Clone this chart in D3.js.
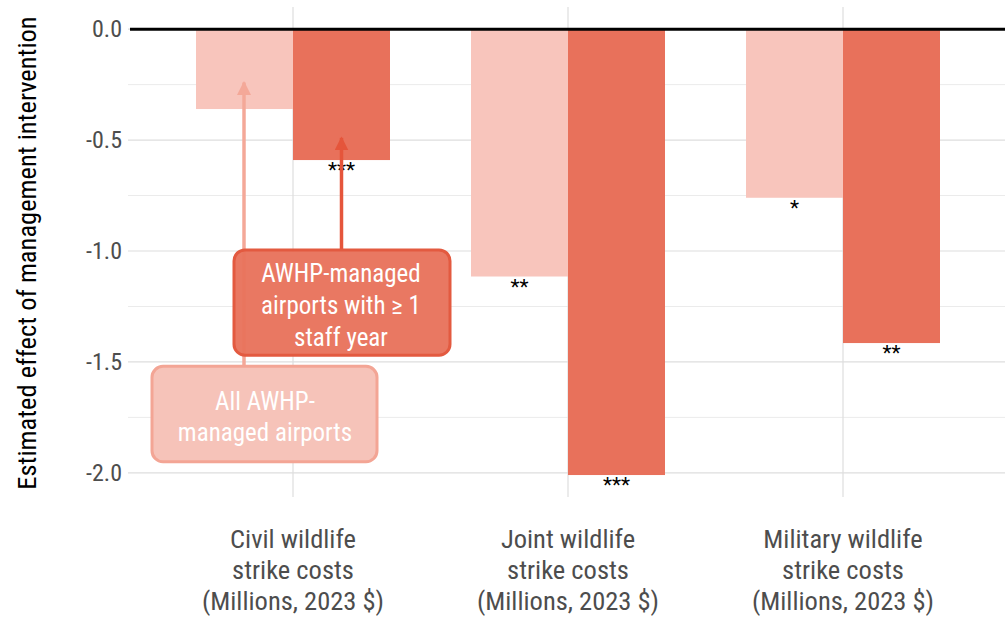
<!DOCTYPE html>
<html lang="en">
<head>
  <meta charset="UTF-8">
  <title>Estimated effect of management intervention</title>
  <style>
    body { margin: 0; background: #fff; }
    svg text { font-family: "Liberation Sans Narrow", "Roboto Condensed", "Arial Narrow", "Liberation Sans", sans-serif; }
  </style>
</head>
<body>
<script src="https://d3js.org/d3.v7.min.js"></script>
<script type="text/javascript">

  // categories and series
  var categories = [
    "Civil wildlife\nstrike costs\n(Millions, 2023 $)",
    "Joint wildlife\nstrike costs\n(Millions, 2023 $)",
    "Military wildlife\nstrike costs\n(Millions, 2023 $)"
  ];
  var seriesKeys = ["all", "staffed"];
  var allValues = [-0.36, -1.115, -0.76];
  var staffedValues = [-0.59, -2.01, -1.415];
  var allStars = ["", "**", "*"];
  var staffedStars = ["***", "***", "**"];
  var yTicks = [0, -0.5, -1.0, -1.5, -2.0];
  var yMinor = [-0.25, -0.75, -1.25, -1.75];

  var colors = { all: "#f8c5bc", staffed: "#e8715b" };

  var width = 1005, height = 618;
  var plot = { left: 128, right: 1008, top: 7, bottom: 495 };

  var svg = d3.select("body")
    .append("svg")
    .attr("width", width)
    .attr("height", height);

  var x = d3.scalePoint()
    .domain(categories)
    .range([plot.left, plot.right])
    .padding(0.6);

  var xSub = d3.scaleBand()
    .domain(seriesKeys)
    .range([-97, 97])
    .padding(0);

  var y = d3.scaleLinear()
    .domain([0.1, -2.1])
    .range([plot.top, plot.bottom]);

  // grid
  var grid = svg.append("g").attr("class", "grid");
  grid.selectAll("line.minor")
    .data(yMinor)
    .enter().append("line")
    .attr("x1", plot.left).attr("x2", width)
    .attr("y1", function(d) { return y(d); })
    .attr("y2", function(d) { return y(d); })
    .attr("stroke", "#ebebeb").attr("stroke-width", 1);
  grid.selectAll("line.major")
    .data(yTicks)
    .enter().append("line")
    .attr("x1", plot.left).attr("x2", width)
    .attr("y1", function(d) { return y(d); })
    .attr("y2", function(d) { return y(d); })
    .attr("stroke", "#dedede").attr("stroke-width", 1.2);
  grid.selectAll("line.vert")
    .data(categories)
    .enter().append("line")
    .attr("x1", function(d) { return x(d); })
    .attr("x2", function(d) { return x(d); })
    .attr("y1", plot.top).attr("y2", plot.bottom + 2)
    .attr("stroke", "#dedede").attr("stroke-width", 1.2);

  // y axis
  var yAxis = d3.axisLeft(y)
    .tickValues(yTicks)
    .tickSize(0)
    .tickPadding(6)
    .tickFormat(d3.format(".1f"));

  var yg = svg.append("g")
    .attr("transform", "translate(" + plot.left + ",0)")
    .call(yAxis);
  yg.select(".domain").remove();
  yg.selectAll(".tick text")
    .attr("fill", "#4d4d4d")
    .attr("font-size", 24)
    .text(function(d) { return d3.format(".1f")(d).replace("−", "-"); });

  svg.append("text")
    .attr("transform", "translate(36," + ((plot.top + plot.bottom) / 2 + 2) + ") rotate(-90)")
    .attr("text-anchor", "middle")
    .attr("font-size", 26.5)
    .attr("fill", "#000")
    .text("Estimated effect of management intervention");

  // x axis labels
  var xl = svg.append("g").attr("class", "x axis");
  categories.forEach(function(c) {
    var t = xl.append("text")
      .attr("x", x(c))
      .attr("y", 548)
      .attr("text-anchor", "middle")
      .attr("font-size", 26.5)
      .attr("fill", "#4d4d4d");
    c.split("\n").forEach(function(line, i) {
      t.append("tspan")
        .attr("x", x(c))
        .attr("dy", i === 0 ? 0 : 31)
        .text(line);
    });
  });

  // bars
  var rows = categories.map(function(c, i) {
    return [
      { cat: c, key: "all", value: allValues[i], stars: allStars[i] },
      { cat: c, key: "staffed", value: staffedValues[i], stars: staffedStars[i] }
    ];
  });

  var groups = svg.selectAll("g.cat")
    .data(rows)
    .enter().append("g")
    .attr("class", "cat")
    .attr("transform", function(d) { return "translate(" + x(d[0].cat) + ",0)"; });

  groups.selectAll("rect")
    .data(function(d) { return d; })
    .enter().append("rect")
    .attr("x", function(d) { return xSub(d.key); })
    .attr("width", xSub.bandwidth())
    .attr("y", y(0))
    .attr("height", function(d) { return y(d.value) - y(0); })
    .attr("fill", function(d) { return colors[d.key]; });

  groups.selectAll("text.star")
    .data(function(d) { return d; })
    .enter().append("text")
    .attr("class", "star")
    .attr("x", function(d) { return xSub(d.key) + xSub.bandwidth() / 2; })
    .attr("y", function(d) { return y(d.value) + 17; })
    .attr("text-anchor", "middle")
    .attr("font-size", 21)
    .attr("font-family", "DejaVu Sans, sans-serif")
    .attr("fill", "#000")
    .text(function(d) { return d.stars; });

  // zero line
  svg.append("line")
    .attr("x1", plot.left + 2).attr("x2", width)
    .attr("y1", y(0)).attr("y2", y(0))
    .attr("stroke", "#000").attr("stroke-width", 3);

  // annotations
  var defs = svg.append("defs");
  function marker(id, color) {
    defs.append("marker")
      .attr("id", id)
      .attr("viewBox", "0 0 10 10")
      .attr("refX", 9).attr("refY", 5)
      .attr("markerWidth", 4).attr("markerHeight", 4)
      .attr("markerUnits", "strokeWidth")
      .attr("orient", "auto")
      .append("path")
      .attr("d", "M0,0 L10,5 L0,10 z")
      .attr("fill", color);
  }
  marker("arrLight", "#f4a898");
  marker("arrDark", "#e5553b");

  var civil = categories[0];
  var lightX = x(civil) + xSub("all") + xSub.bandwidth() / 2 - 0.5;
  var darkX = x(civil) + xSub("staffed") + xSub.bandwidth() / 2;

  svg.append("line")
    .attr("x1", lightX).attr("x2", lightX)
    .attr("y1", y(-1.52)).attr("y2", y(-0.24))
    .attr("stroke", "#f4a898").attr("stroke-width", 3.5)
    .attr("marker-end", "url(#arrLight)");

  // light box
  svg.append("rect")
    .attr("x", 152).attr("y", y(-1.52))
    .attr("width", 225).attr("height", y(-1.95) - y(-1.52))
    .attr("rx", 11)
    .attr("fill", "#f6c3b9")
    .attr("stroke", "#f3a595").attr("stroke-width", 3);
  var lt = svg.append("text")
    .attr("text-anchor", "middle")
    .attr("font-size", 25)
    .attr("fill", "#fff");
  ["All AWHP-", "managed airports"].forEach(function(s, i) {
    lt.append("tspan").attr("x", 265).attr("y", 410 + i * 31).text(s);
  });

  svg.append("line")
    .attr("x1", darkX).attr("x2", darkX)
    .attr("y1", y(-1.0)).attr("y2", y(-0.49))
    .attr("stroke", "#e5553b").attr("stroke-width", 3.5)
    .attr("marker-end", "url(#arrDark)");

  // dark box
  svg.append("rect")
    .attr("x", 234).attr("y", y(-0.995))
    .attr("width", 216).attr("height", y(-1.47) - y(-0.995))
    .attr("rx", 11)
    .attr("fill", "#e8735c")
    .attr("fill-opacity", 0.96)
    .attr("stroke", "#e35a40").attr("stroke-width", 3);
  var dt = svg.append("text")
    .attr("text-anchor", "middle")
    .attr("font-size", 25)
    .attr("fill", "#fff");
  ["AWHP-managed", "airports with \u2265 1", "staff year"].forEach(function(s, i) {
    dt.append("tspan").attr("x", 341).attr("y", 282 + i * 32).text(s);
  });

</script>
</body>
</html>
